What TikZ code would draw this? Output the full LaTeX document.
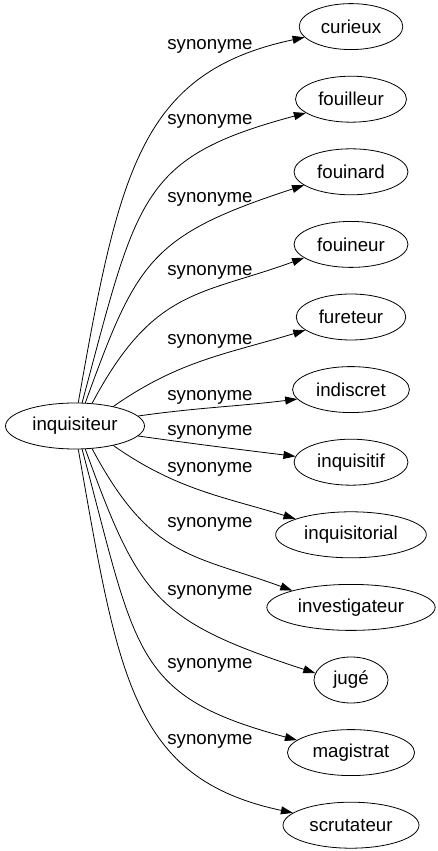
\documentclass[tikz,border=0pt]{standalone}
\usepackage{fontspec}
\setmainfont{Liberation Sans}
\usetikzlibrary{matrix}
\usetikzlibrary{arrows.meta}
\usetikzlibrary{shapes.geometric}

\begin{document}
\begin{tikzpicture}[->,>={Triangle[length=12pt,width=8pt]},x=1pt,y=1pt,line width=0.8pt,font=\fontsize{18.7}{22}\selectfont]
			\useasboundingbox (0,0) rectangle (437,851);
			\node[draw,ellipse,inner xsep=6.5pt,inner ysep=3pt,minimum height=46pt] (inquisiteur) at (75,425) {inquisiteur};
			\matrix[matrix of nodes,nodes={draw,ellipse,anchor=center,inner xsep=6.5pt,inner ysep=3pt,minimum height=46pt,minimum width=74pt},row sep=25.8pt,ampersand replacement=\&] at (351,425.1)
			{
				|(curieux)| curieux \\
				|(fouilleur)| fouilleur \\
				|(fouinard)| fouinard \\
				|(fouineur)| fouineur \\
				|(fureteur)| fureteur \\
				|(indiscret)| indiscret \\
				|(inquisitif)| inquisitif \\
				|(inquisitorial)| inquisitorial \\
				|(investigateur)| investigateur \\
				|(juge)| jugé \\
				|(magistrat)| magistrat \\
				|(scrutateur)| scrutateur \\
			};
			\draw  (inquisiteur.82) to [out=80,in=192,out looseness=1.4,in looseness=1] (curieux.193);
			\draw  (inquisiteur.73) to [out=75,in=195,out looseness=1.5,in looseness=1.2] (fouilleur.197);
			\draw  (inquisiteur.66) to [out=70,in=198,out looseness=1.25,in looseness=1.35] (fouinard.196);
			\draw  (inquisiteur.53) to [out=62,in=200,out looseness=1.3,in looseness=1.1] (fouineur.196);
			\draw  (inquisiteur.27) to [out=35,in=197] (fureteur.196);
			\draw  (inquisiteur.9) to [out=8,in=187] (indiscret.190);
			\draw  (inquisiteur.-9) to [out=-8,in=173] (inquisitif.174);
			\draw  (inquisiteur.-27) to [out=-35,in=163] (inquisitorial.164);
			\draw  (inquisiteur.-53) to [out=-62,in=160,out looseness=1.3,in looseness=1.1] (investigateur.164);
			\draw  (inquisiteur.-66) to [out=-70,in=162,out looseness=1.25,in looseness=1.35] (juge.169);
			\draw  (inquisiteur.-73) to [out=-75,in=165,out looseness=1.5,in looseness=1.2] (magistrat.167);
			\draw  (inquisiteur.-82) to [out=-80,in=168,out looseness=1.4,in looseness=1] (scrutateur.168);
			\node[anchor=base] (syn1) at (210,801) {synonyme};
			\node[anchor=base] (syn2) at (210,726) {synonyme};
			\node[anchor=base] (syn3) at (210,648) {synonyme};
			\node[anchor=base] (syn4) at (210,575) {synonyme};
			\node[anchor=base] (syn5) at (210,506) {synonyme};
			\node[anchor=base] (syn6) at (210,450.5) {synonyme};
			\node[anchor=base] (syn7) at (210,415) {synonyme};
			\node[anchor=base] (syn8) at (210,378.5) {synonyme};
			\node[anchor=base] (syn9) at (210,323) {synonyme};
			\node[anchor=base] (syn10) at (210,255) {synonyme};
			\node[anchor=base] (syn11) at (210,182) {synonyme};
			\node[anchor=base] (syn12) at (210,106) {synonyme};
			\end{tikzpicture}
\end{document}
